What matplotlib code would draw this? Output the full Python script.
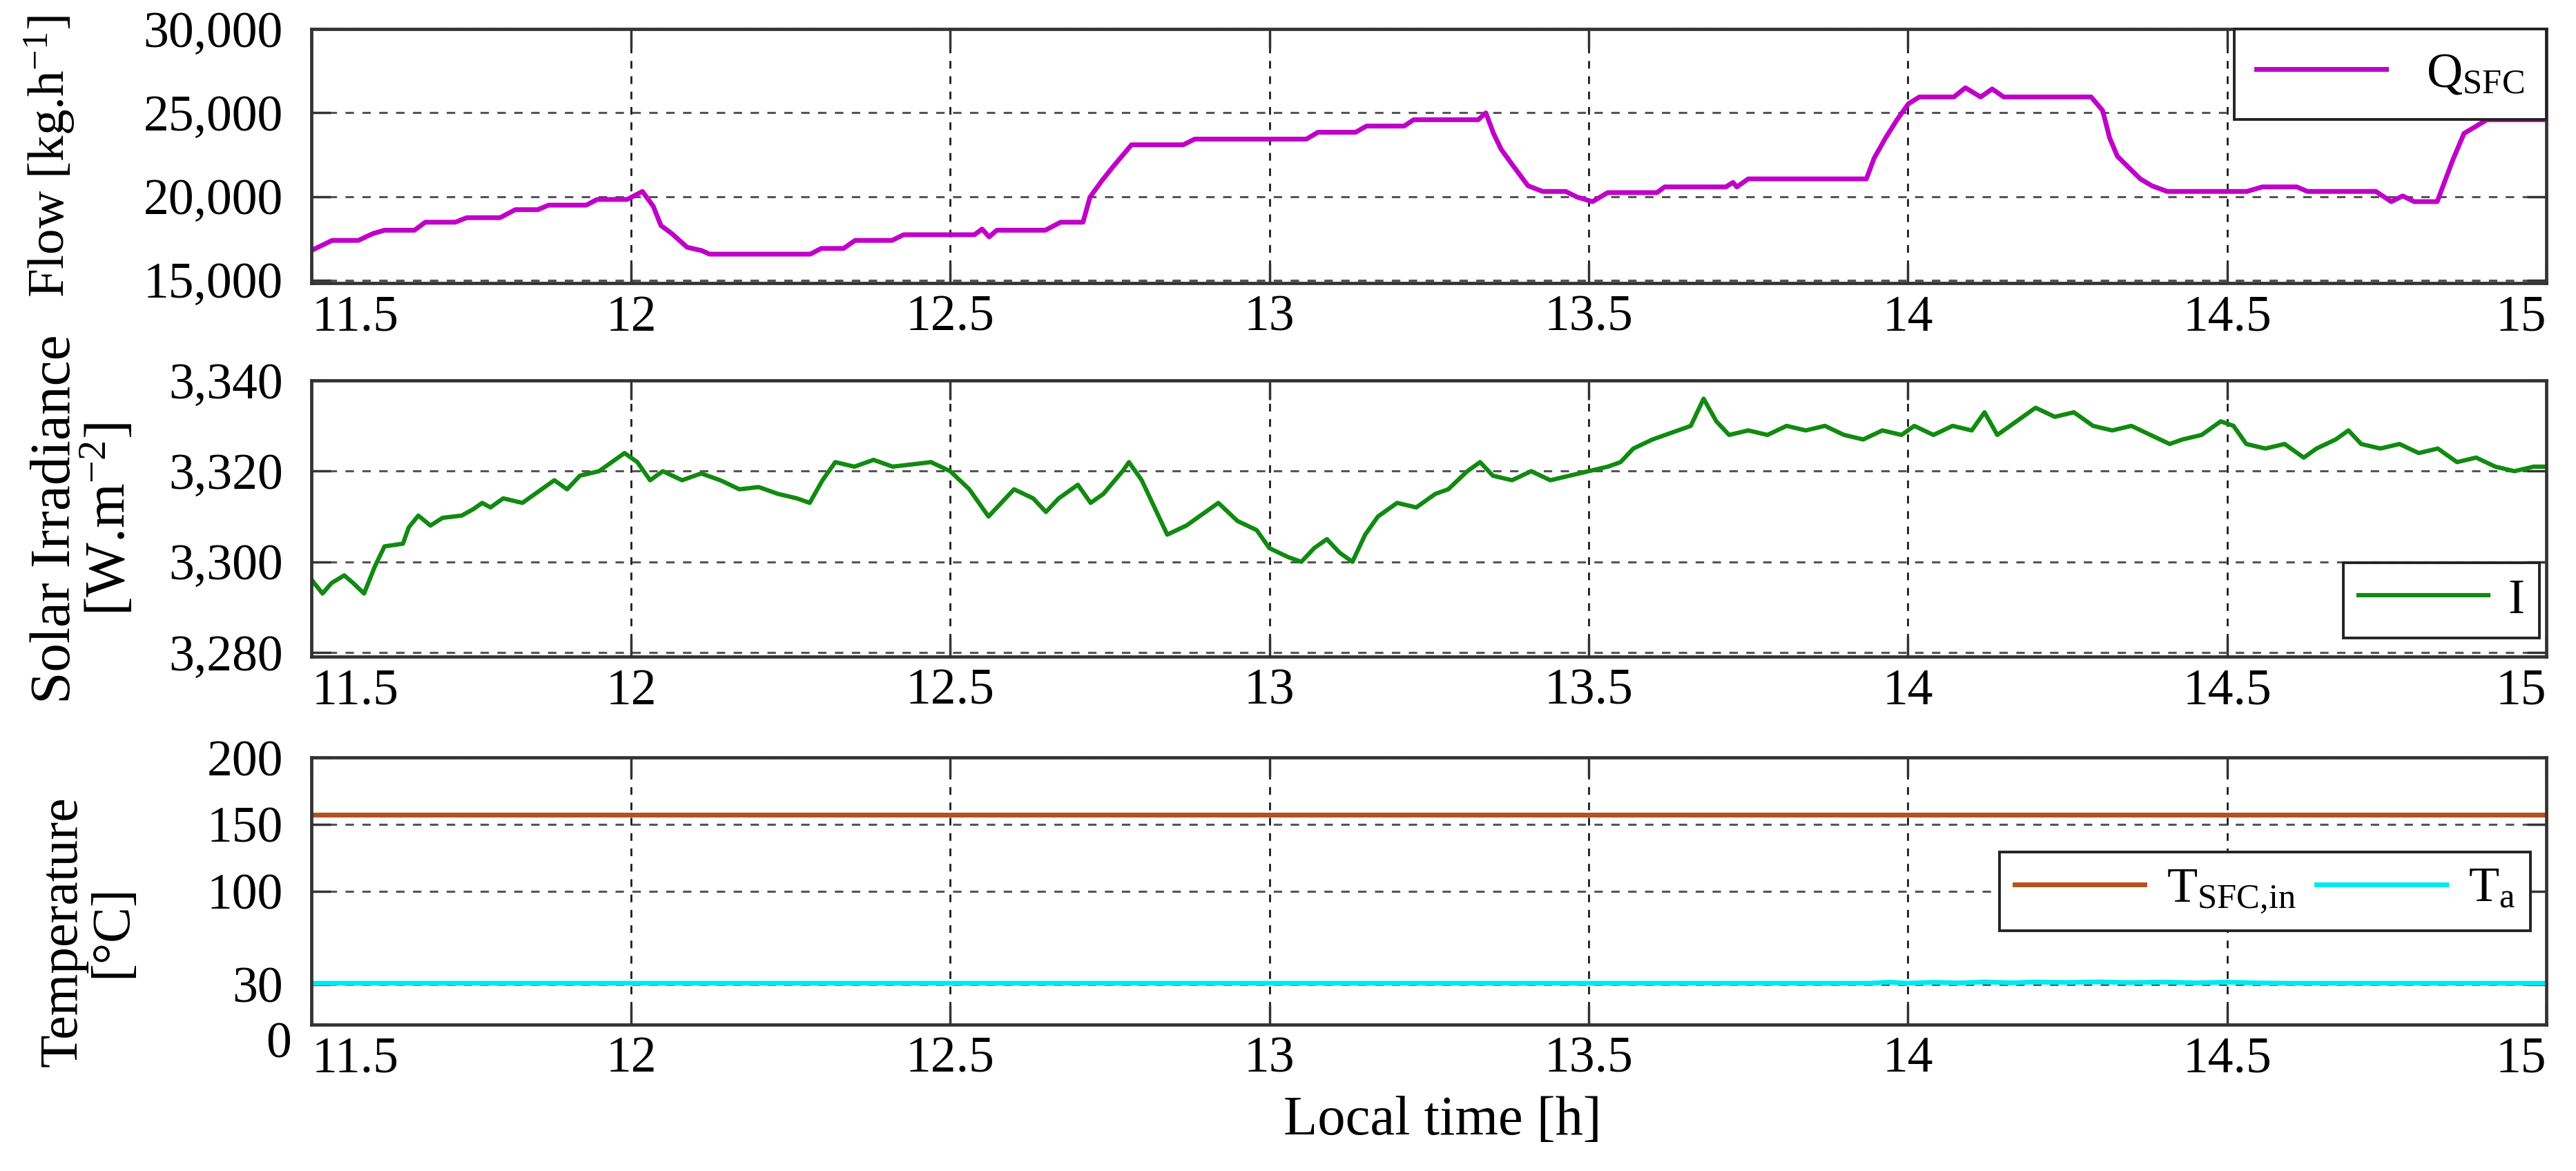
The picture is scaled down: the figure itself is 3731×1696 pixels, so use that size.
import numpy as np
import matplotlib.pyplot as plt
from matplotlib.ticker import FuncFormatter
from matplotlib.transforms import ScaledTranslation

plt.rcParams['font.family'] = 'Liberation Serif'
plt.rcParams['mathtext.fontset'] = 'custom'
plt.rcParams['mathtext.rm'] = 'Liberation Serif'
plt.rcParams['mathtext.it'] = 'Liberation Serif:italic'
plt.rcParams['mathtext.bf'] = 'Liberation Serif:bold'

# x axis (local time, h)
time_ticks = [11.5, 12, 12.5, 13, 13.5, 14, 14.5, 15]
time_labels = ['11.5', '12', '12.5', '13', '13.5', '14', '14.5', '15']

# solar field collector mass flow [kg/h]
flow_t = [11.503, 11.532, 11.573, 11.596, 11.614, 11.661, 11.678, 11.725, 11.743, 11.795,
          11.819, 11.854, 11.871, 11.930, 11.947, 11.994, 12.018, 12.035, 12.047, 12.064,
          12.088, 12.111, 12.123, 12.281, 12.298, 12.333, 12.351, 12.409, 12.427, 12.538,
          12.550, 12.561, 12.573, 12.649, 12.673, 12.708, 12.719, 12.737, 12.754, 12.784,
          12.865, 12.883, 13.058, 13.076, 13.135, 13.152, 13.211, 13.226, 13.327, 13.339,
          13.351, 13.363, 13.381, 13.405, 13.428, 13.464, 13.482, 13.506, 13.530, 13.607,
          13.619, 13.715, 13.726, 13.732, 13.750, 13.935, 13.947, 13.965, 13.983, 14.001,
          14.018, 14.072, 14.090, 14.114, 14.132, 14.150, 14.287, 14.305, 14.316, 14.328,
          14.346, 14.364, 14.382, 14.406, 14.531, 14.555, 14.609, 14.626, 14.733, 14.757,
          14.775, 14.793, 14.829, 14.853, 14.871, 14.907, 15.000]
flow_q = [16830, 17370, 17370, 17780, 17980, 17980, 18460, 18460, 18730, 18730,
          19210, 19210, 19480, 19480, 19820, 19820, 20300, 19410, 18260, 17780,
          16960, 16760, 16550, 16550, 16890, 16890, 17370, 17370, 17710, 17710,
          18050, 17580, 17980, 17980, 18460, 18460, 19960, 20910, 21730, 23090,
          23090, 23430, 23430, 23840, 23840, 24210, 24210, 24590, 24590, 25000,
          23770, 22820, 21870, 20640, 20300, 20300, 19960, 19690, 20230, 20230,
          20570, 20570, 20840, 20570, 21050, 21050, 22280, 23500, 24590, 25550,
          25950, 25950, 26500, 25950, 26430, 25950, 25950, 25140, 23500, 22410,
          21730, 21050, 20640, 20300, 20300, 20570, 20570, 20300, 20300, 19690,
          20030, 19690, 19690, 22140, 23770, 24590, 24590]

# solar irradiance [W/m2]
irr_t = [11.500, 11.517, 11.531, 11.551, 11.565, 11.582, 11.599, 11.614, 11.643, 11.652,
         11.667, 11.686, 11.705, 11.735, 11.754, 11.767, 11.780, 11.800, 11.830, 11.860,
         11.880, 11.900, 11.920, 11.950, 11.970, 11.990, 12.010, 12.030, 12.050, 12.080,
         12.110, 12.140, 12.170, 12.200, 12.230, 12.260, 12.280, 12.300, 12.320, 12.350,
         12.380, 12.410, 12.440, 12.470, 12.500, 12.530, 12.560, 12.580, 12.600, 12.630,
         12.650, 12.670, 12.700, 12.720, 12.740, 12.770, 12.780, 12.800, 12.820, 12.840,
         12.870, 12.900, 12.920, 12.950, 12.980, 13.000, 13.030, 13.050, 13.070, 13.090,
         13.110, 13.130, 13.150, 13.170, 13.200, 13.230, 13.260, 13.280, 13.310, 13.330,
         13.350, 13.380, 13.410, 13.440, 13.470, 13.500, 13.530, 13.550, 13.570, 13.600,
         13.620, 13.640, 13.660, 13.680, 13.700, 13.720, 13.750, 13.780, 13.810, 13.840,
         13.870, 13.900, 13.930, 13.960, 13.990, 14.010, 14.040, 14.070, 14.100, 14.120,
         14.140, 14.170, 14.200, 14.230, 14.260, 14.290, 14.320, 14.350, 14.380, 14.410,
         14.430, 14.460, 14.490, 14.510, 14.530, 14.560, 14.590, 14.620, 14.640, 14.670,
         14.690, 14.710, 14.740, 14.770, 14.800, 14.830, 14.860, 14.890, 14.920, 14.950,
         14.980, 15.000]
irr_w = [3296, 3293, 3295.3, 3297, 3295.3, 3293, 3299, 3303.4, 3304, 3307.6,
         3310.2, 3308, 3309.7, 3310.2, 3311.7, 3313, 3312, 3314, 3313, 3316,
         3318, 3316, 3319, 3320, 3322, 3324, 3322, 3318, 3320, 3318,
         3319.5, 3318, 3316, 3316.5, 3315, 3314, 3313, 3318, 3322, 3321,
         3322.5, 3321, 3321.5, 3322, 3320, 3316, 3310, 3313, 3316, 3314,
         3311, 3314, 3317, 3313, 3315, 3320, 3322, 3318, 3312, 3306,
         3308, 3311, 3313, 3309, 3307, 3303, 3301, 3300, 3303, 3305,
         3302, 3300, 3306, 3310, 3313, 3312, 3315, 3316, 3320, 3322,
         3319, 3318, 3320, 3318, 3319, 3320, 3321, 3322, 3325, 3327,
         3328, 3329, 3330, 3336, 3331, 3328, 3329, 3328, 3330, 3329,
         3330, 3328, 3327, 3329, 3328, 3330, 3328, 3330, 3329, 3333,
         3328, 3331, 3334, 3332, 3333, 3330, 3329, 3330, 3328, 3326,
         3327, 3328, 3331, 3330, 3326, 3325, 3326, 3323, 3325, 3327,
         3329, 3326, 3325, 3326, 3324, 3325, 3322, 3323, 3321, 3320,
         3321, 3321]

# temperatures [degC]
tsfc_t = [11.5, 15.0]
tsfc_c = [157, 157]
ta_t = [11.5, 13.94, 13.97, 14.00, 14.04, 14.08, 14.12, 14.16, 14.20, 14.25,
        14.30, 14.35, 14.40, 14.45, 14.50, 14.55, 14.60, 15.0]
ta_c = [31, 31, 31.8, 31, 31.7, 31.2, 32, 31.3, 31.9, 31.6,
        32, 31.5, 31.9, 31.3, 31.8, 31.2, 31, 31]

fig = plt.figure(figsize=(37.31, 16.96), dpi=100)
ax1 = fig.add_axes([0.121, 0.758, 0.8675, 0.217])
ax2 = fig.add_axes([0.121, 0.439, 0.8675, 0.236])
ax3 = fig.add_axes([0.121, 0.125, 0.8675, 0.228])


def style(ax, yticks, ylim):
    ax.set_xlim(11.5, 15)
    ax.set_ylim(*ylim)
    ax.set_xticks(time_ticks)
    ax.set_xticklabels(time_labels)
    ax.set_yticks(yticks)
    ax.tick_params(direction='in', length=20, width=2.5, top=True, right=True,
                   labelsize=53, color='#333333')
    ax.tick_params(axis='x', pad=12)
    ax.tick_params(axis='y', pad=30)
    ax.xaxis.grid(True, color='#1a1a1a', ls=(0, (4, 4)), lw=2)
    ax.yaxis.grid(True, color='#555555', ls=(0, (4, 4)), lw=2.2)
    for s in ax.spines.values():
        s.set_linewidth(3.4)
        s.set_color('#333333')
    lbls = ax.get_xticklabels()
    lbls[0].set_ha('left')
    lbls[-1].set_ha('right')


comma = FuncFormatter(lambda v, p: '{:,.0f}'.format(v))

ax1.plot(flow_t, flow_q, color='#c000c8', lw=5, label=r'Q$_{\mathrm{SFC}}$')
style(ax1, [15000, 20000, 25000, 30000], (14800, 30000))
ax1.yaxis.set_major_formatter(comma)
ax1.set_ylabel(r'Flow [kg.h$^{-1}$]', fontsize=54)
ax1.yaxis.set_label_coords(-0.105, 0.5)

ax2.plot(irr_t, irr_w, color='#118a11', lw=4.5, label='I')
style(ax2, [3280, 3300, 3320, 3340], (3279, 3340))
ax2.yaxis.set_major_formatter(comma)
ax2.set_ylabel('Solar Irradiance\n' + r'[W.m$^{-2}$]', fontsize=60, linespacing=1.0)
ax2.yaxis.set_label_coords(-0.078, 0.5)

ax3.plot(tsfc_t, tsfc_c, color='#b4521c', lw=5, label=r'T$_{\text{SFC,in}}$')
ax3.plot(ta_t, ta_c, color='#00e8f0', lw=5, label=r'T$_{\mathrm{a}}$')
style(ax3, [0, 30, 100, 150, 200], (0, 200))
ax3.set_ylabel('Temperature\n[°C]', fontsize=56, linespacing=1.0)
ax3.yaxis.set_label_coords(-0.078, 0.35)
# the "0" label sits a little lower and to the right in the original
zero_lbl = ax3.get_yticklabels()[0]
zero_lbl.set_transform(zero_lbl.get_transform()
                       + ScaledTranslation(0.12, -0.22, fig.dpi_scale_trans))

leg_kw = dict(fancybox=False, edgecolor='#222222', framealpha=1, fontsize=52,
              handlelength=2.6, borderaxespad=0)
l1 = ax1.legend(loc='upper right', bbox_to_anchor=(1, 1), handletextpad=0.8,
                borderpad=0.45, **leg_kw)
l2 = ax2.legend(loc='lower right', bbox_to_anchor=(0.997, 0.068), handletextpad=0.4,
                borderpad=0.3, **leg_kw)
l3 = ax3.legend(loc='center right', bbox_to_anchor=(0.993, 0.5), ncol=2,
                columnspacing=0.4, handletextpad=0.45, borderpad=0.3, **leg_kw)
for lg in (l1, l2, l3):
    lg.get_frame().set_linewidth(2.8)

fig.text(0.56, 0.043, 'Local time [h]', ha='center', va='center', fontsize=58)

fig.savefig('out.png', dpi=100, facecolor='white')
